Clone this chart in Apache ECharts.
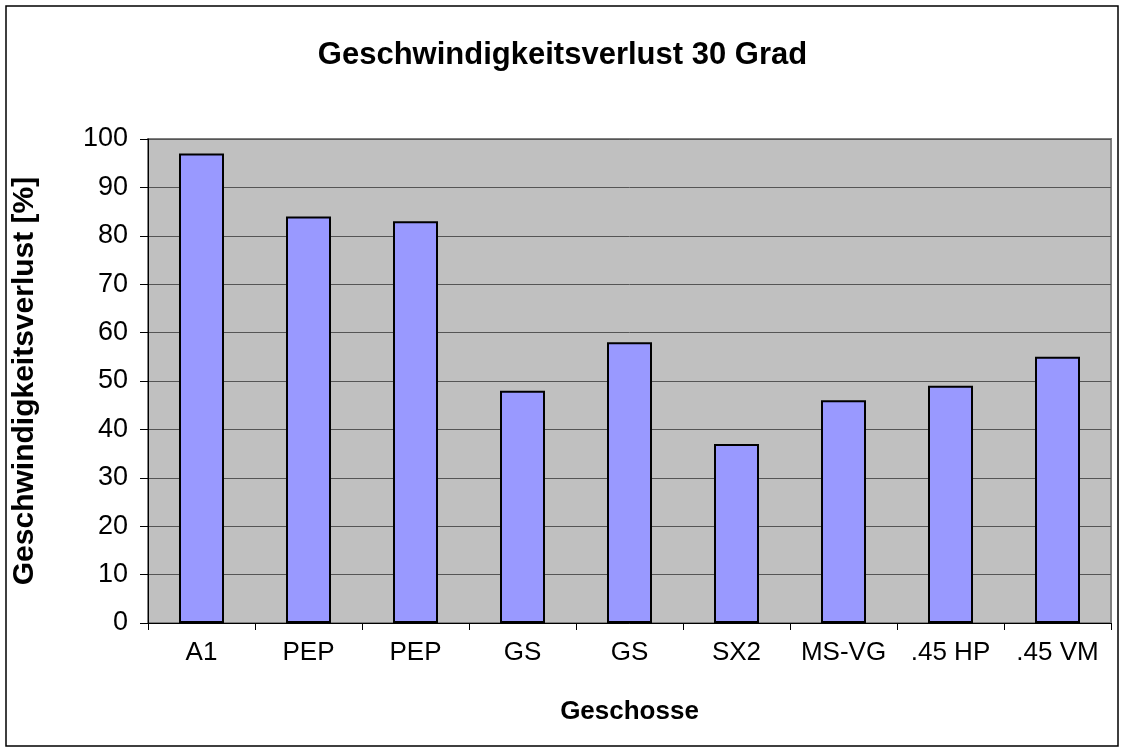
<!DOCTYPE html>
<html>
<head>
<meta charset="utf-8">
<script src="https://cdn.jsdelivr.net/npm/echarts@6/dist/echarts.min.js"></script>
<style>
  html, body { margin: 0; padding: 0; background: #fff; }
  #main { width: 1125px; height: 753px; }
</style>
</head>
<body>
<div id="main"></div>
<script>
// Daten
var categories = ['A1', 'PEP', 'PEP', 'GS', 'GS', 'SX2', 'MS-VG', '.45 HP', '.45 VM'];
var verlust = [97, 84, 83, 48, 58, 37, 46, 49, 55];
var yTicks = { min: 0, max: 100, interval: 10 };

var chart = echarts.init(document.getElementById('main'));

var font = 'Liberation Sans, Arial, sans-serif';

var option = {
  backgroundColor: '#fff',
  animation: false,
  title: {
    text: 'Geschwindigkeitsverlust 30 Grad',
    left: 'center',
    top: 35,
    textStyle: { fontFamily: font, fontSize: 31, fontWeight: 'bold', color: '#000' }
  },
  graphic: [{
    type: 'rect',
    shape: { x: 6, y: 6, width: 1112, height: 740 },
    style: { fill: 'none', stroke: '#000', lineWidth: 1.5 },
    silent: true
  }],
  grid: {
    left: 148, right: 14, top: 139, bottom: 130,
    show: true,
    backgroundColor: '#C0C0C0',
    borderColor: '#808080',
    borderWidth: 2
  },
  xAxis: {
    type: 'category',
    data: categories,
    name: 'Geschosse',
    nameLocation: 'middle',
    nameGap: 76,
    nameTextStyle: { fontFamily: font, fontSize: 26, fontWeight: 'bold', color: '#000' },
    axisLine: { lineStyle: { color: '#000', width: 1 } },
    axisTick: { show: true, interval: 0, length: 7, lineStyle: { color: '#000' } },
    axisLabel: { interval: 0, fontFamily: font, fontSize: 26, color: '#000', margin: 17 }
  },
  yAxis: {
    type: 'value',
    min: yTicks.min,
    max: yTicks.max,
    interval: yTicks.interval,
    name: 'Geschwindigkeitsverlust [%]',
    nameLocation: 'middle',
    nameGap: 108,
    nameTextStyle: { fontFamily: font, fontSize: 30, fontWeight: 'bold', color: '#000' },
    axisLine: { show: true, lineStyle: { color: '#000', width: 1 } },
    axisTick: { show: true, length: 8, lineStyle: { color: '#000' } },
    axisLabel: { fontFamily: font, fontSize: 27, color: '#000', margin: 20 },
    splitLine: { show: true, lineStyle: { color: '#555', width: 1 } }
  },
  series: [{
    name: 'Geschwindigkeitsverlust',
    type: 'bar',
    data: verlust,
    barWidth: 45,
    itemStyle: { color: '#9999FF', borderColor: '#000', borderWidth: 2 }
  }]
};

chart.setOption(option);
</script>
</body>
</html>
